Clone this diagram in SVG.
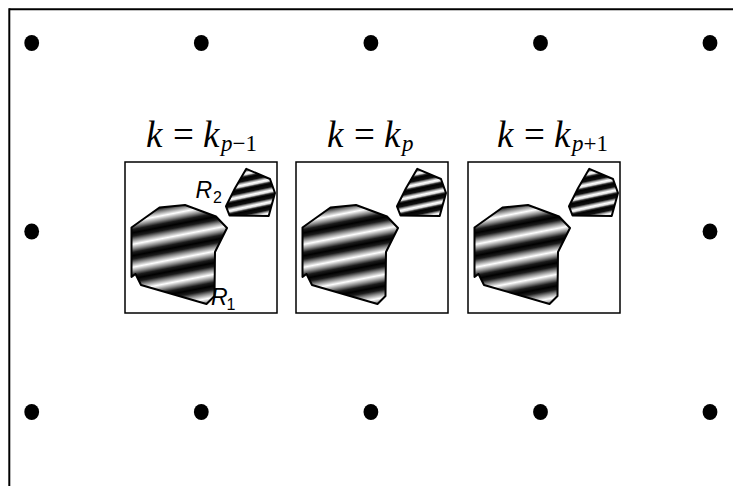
<svg xmlns="http://www.w3.org/2000/svg" width="733" height="486" viewBox="0 0 733 486">
<style>
.frame{fill:none;stroke:#000;stroke-width:2}
.dot{fill:#000}
.box{fill:#fff;stroke:#000;stroke-width:1.5}
.r1{fill:url(#g1);stroke:#000;stroke-width:2;stroke-linejoin:round}
.r2{fill:url(#g2);stroke:#000;stroke-width:2;stroke-linejoin:round}
.ti{font-family:"Liberation Serif","Times New Roman",serif;font-size:37px;fill:#000}
.ts{font-family:"Liberation Serif","Times New Roman",serif;font-size:23px;fill:#000}
.it{font-style:italic}
.lab{font-family:"Liberation Sans",Arial,sans-serif;font-style:italic;font-size:23px;fill:#000}
.sub{font-family:"Liberation Sans",Arial,sans-serif;font-size:16px;fill:#000}
</style>
<defs>
<linearGradient id="g1" gradientUnits="userSpaceOnUse" spreadMethod="repeat" x1="131.5" y1="256" x2="135.8" y2="278.1">
<stop offset="0" stop-color="#000"/>
<stop offset="0.15" stop-color="#1c1c1c"/>
<stop offset="0.3" stop-color="#858585"/>
<stop offset="0.5" stop-color="#fff"/>
<stop offset="0.7" stop-color="#858585"/>
<stop offset="0.85" stop-color="#1c1c1c"/>
<stop offset="1" stop-color="#000"/>
</linearGradient>
<linearGradient id="g2" gradientUnits="userSpaceOnUse" spreadMethod="repeat" x1="240" y1="190" x2="242.3" y2="200.8">
<stop offset="0" stop-color="#000"/>
<stop offset="0.3" stop-color="#111"/>
<stop offset="0.45" stop-color="#999"/>
<stop offset="0.6" stop-color="#fff"/>
<stop offset="0.75" stop-color="#ddd"/>
<stop offset="0.88" stop-color="#333"/>
<stop offset="1" stop-color="#000"/>
</linearGradient>
</defs>
<g id="frame">
<line class="frame" x1="9.3" y1="9.3" x2="733" y2="9.3"/>
<line class="frame" x1="9.3" y1="8.3" x2="9.3" y2="486"/>
</g>
<g id="dots">
<ellipse class="dot" cx="31.7" cy="43" rx="7.4" ry="8"/>
<ellipse class="dot" cx="201.3" cy="43" rx="7.4" ry="8"/>
<ellipse class="dot" cx="370.9" cy="43" rx="7.4" ry="8"/>
<ellipse class="dot" cx="540.5" cy="43" rx="7.4" ry="8"/>
<ellipse class="dot" cx="710" cy="43" rx="7.4" ry="8"/>
<ellipse class="dot" cx="31.7" cy="231.5" rx="7.4" ry="8"/>
<ellipse class="dot" cx="710" cy="231.5" rx="7.4" ry="8"/>
<ellipse class="dot" cx="31.7" cy="412" rx="7.4" ry="8"/>
<ellipse class="dot" cx="201.3" cy="412" rx="7.4" ry="8"/>
<ellipse class="dot" cx="370.9" cy="412" rx="7.4" ry="8"/>
<ellipse class="dot" cx="540.5" cy="412" rx="7.4" ry="8"/>
<ellipse class="dot" cx="710" cy="412" rx="7.4" ry="8"/>
</g>
<g id="panel1">
<text class="ti it" x="146" y="147">k</text>
<text class="ti" x="173" y="147">=</text>
<text class="ti it" x="203" y="147">k</text>
<text class="ts" x="221" y="151"><tspan class="it">p</tspan>−1</text>
<rect class="box" x="125" y="162" width="152" height="151"/>
<polygon class="r1" points="131.5,227.5 159.5,207.5 185,205 216,216.5 227,228 215,252 214.5,296 206.5,304 141,285 135.5,274 131.5,277"/>
<polygon class="r2" points="246.3,168.8 270,179 275,193 268.7,216 229.5,215.5 226,206.3 235,188.3"/>
<text class="lab" x="195.5" y="198">R</text>
<text class="sub" x="213" y="203">2</text>
<text class="lab" x="211" y="305">R</text>
<text class="sub" x="226.5" y="310">1</text>
</g>
<g id="panel2">
<text class="ti it" x="327" y="147">k</text>
<text class="ti" x="354" y="147">=</text>
<text class="ti it" x="384" y="147">k</text>
<text class="ts it" x="402" y="151">p</text>
<g transform="translate(171,0)">
<rect class="box" x="125" y="162" width="152" height="151"/>
<polygon class="r1" points="131.5,227.5 159.5,207.5 185,205 216,216.5 227,228 215,252 214.5,296 206.5,304 141,285 135.5,274 131.5,277"/>
<polygon class="r2" points="246.3,168.8 270,179 275,193 268.7,216 229.5,215.5 226,206.3 235,188.3"/>
</g>
</g>
<g id="panel3">
<text class="ti it" x="497" y="147">k</text>
<text class="ti" x="524" y="147">=</text>
<text class="ti it" x="554" y="147">k</text>
<text class="ts" x="572" y="151"><tspan class="it">p</tspan>+1</text>
<g transform="translate(343,0)">
<rect class="box" x="125" y="162" width="152" height="151"/>
<polygon class="r1" points="131.5,227.5 159.5,207.5 185,205 216,216.5 227,228 215,252 214.5,296 206.5,304 141,285 135.5,274 131.5,277"/>
<polygon class="r2" points="246.3,168.8 270,179 275,193 268.7,216 229.5,215.5 226,206.3 235,188.3"/>
</g>
</g>
</svg>
